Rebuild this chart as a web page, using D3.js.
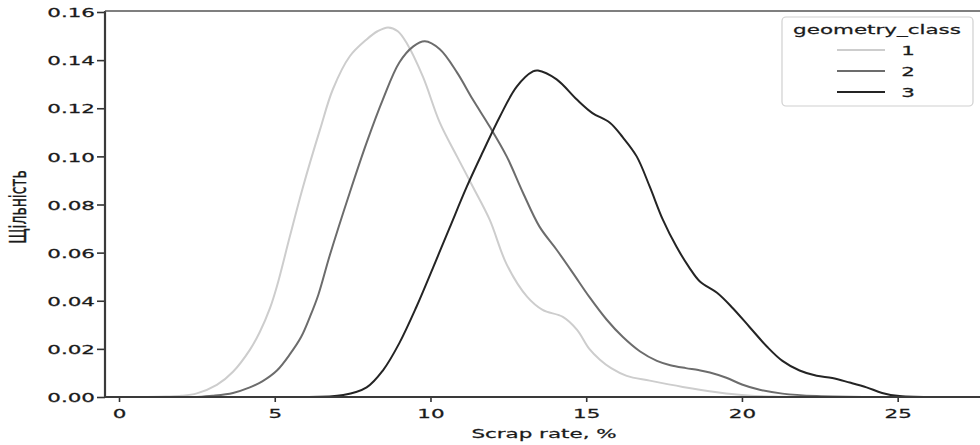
<!DOCTYPE html>
<html>
<head>
<meta charset="utf-8">
<script src="https://cdn.jsdelivr.net/npm/d3@7"></script>
<style>
  html, body { margin: 0; padding: 0; background: #fff; }
  svg { display: block; }
  text { font-family: "DejaVu Sans", sans-serif; fill: #1a1a1a; stroke: #1a1a1a; stroke-width: 0.25px; }
</style>
</head>
<body>
<svg id="chart" width="980" height="445"></svg>
<script>
// ---- data ----
const classes = ["1", "2", "3"];
const xTicks = [0, 5, 10, 15, 20, 25];
const yTicks = [0, 0.02, 0.04, 0.06, 0.08, 0.10, 0.12, 0.14, 0.16];

const class1X = [0.9, 1.5, 2.0, 2.5, 3.14, 3.66, 4.2, 4.52, 4.85, 5.07, 5.49, 5.9, 6.45, 6.87, 7.41, 7.95, 8.3, 8.64, 8.95, 9.24, 9.76, 10.3, 10.85, 11.36, 11.9, 12.45, 13.1, 13.6, 14.25, 14.7, 15.1, 15.44, 15.8, 16.3, 17.04, 18.1, 19.2, 20.2, 21.0, 22.0];
const class1Y = [0, 0.0002, 0.0005, 0.0015, 0.005, 0.0105, 0.0196, 0.027, 0.037, 0.046, 0.067, 0.087, 0.111, 0.128, 0.1416, 0.1486, 0.152, 0.1536, 0.152, 0.147, 0.133, 0.114, 0.100, 0.0874, 0.0737, 0.055, 0.0417, 0.0362, 0.0333, 0.028, 0.020, 0.0155, 0.012, 0.0088, 0.0068, 0.0042, 0.002, 0.0006, 0.0002, 0];

const class2X = [2.5, 3.0, 3.66, 4.2, 4.6, 5.07, 5.5, 5.85, 6.13, 6.4, 6.77, 7.41, 7.95, 8.47, 9.0, 9.45, 9.82, 10.3, 10.85, 11.36, 11.9, 12.45, 12.97, 13.5, 14.05, 14.57, 15.1, 15.66, 16.17, 16.72, 17.27, 17.7, 18.2, 18.6, 18.97, 19.5, 20.0, 20.57, 21.3, 22.4, 24.2];
const class2Y = [0, 0.0005, 0.0017, 0.004, 0.0065, 0.011, 0.018, 0.025, 0.0333, 0.0425, 0.059, 0.085, 0.1057, 0.1236, 0.139, 0.1457, 0.1478, 0.1445, 0.1349, 0.1236, 0.1124, 0.0999, 0.0849, 0.0708, 0.0612, 0.0516, 0.0416, 0.0321, 0.025, 0.019, 0.015, 0.0132, 0.012, 0.0112, 0.0102, 0.008, 0.0052, 0.003, 0.0014, 0.0004, 0];

const class3X = [6.0, 7.2, 7.95, 8.47, 9.0, 9.55, 10.09, 10.62, 11.17, 11.68, 12.23, 12.77, 13.29, 13.45, 14.05, 14.7, 15.2, 15.76, 16.17, 16.62, 17.04, 17.46, 17.9, 18.3, 18.65, 19.2, 19.7, 20.25, 20.8, 21.3, 21.85, 22.4, 22.9, 23.46, 24.0, 24.5, 25.06, 26.5];
const class3Y = [0, 0.0008, 0.004, 0.011, 0.0224, 0.0375, 0.054, 0.0705, 0.0875, 0.1018, 0.1166, 0.129, 0.1353, 0.1357, 0.132, 0.1236, 0.118, 0.114, 0.108, 0.100, 0.0874, 0.0737, 0.0624, 0.054, 0.048, 0.0433, 0.037, 0.029, 0.021, 0.015, 0.011, 0.0088, 0.0079, 0.006, 0.004, 0.0017, 0.0004, 0];

const seriesX = [class1X, class2X, class3X];
const seriesY = [class1Y, class2Y, class3Y];
const colors = ["#cdcdcd", "#6c6c6c", "#242424"];

const xLabel = "Scrap rate, %";
const yLabel = "Щільність";
const legendTitle = "geometry_class";

// ---- layout ----
const SX = 1.65;           // horizontal text stretch seen in the reference
const pLeft = 105, pRight = 988, pTop = 11, pBottom = 397;

const svg = d3.select("#chart");
const x = d3.scaleLinear().domain([-0.45, 27.9]).range([pLeft, pRight]);
const y = d3.scaleLinear().domain([0, 0.16]).range([pBottom, 12]);

// curves
const line = d3.line().x(d => x(d[0])).y(d => y(d[1])).curve(d3.curveCatmullRom.alpha(0.5));
const plot = svg.append("g");
plot.append("defs").append("clipPath").attr("id", "clip")
  .append("rect").attr("x", pLeft).attr("y", pTop).attr("width", pRight - pLeft).attr("height", pBottom - pTop);
classes.forEach((c, i) => {
  const pts = seriesX[i].map((v, j) => [v, seriesY[i][j]]);
  plot.append("path")
    .attr("d", line(pts))
    .attr("fill", "none")
    .attr("stroke", colors[i])
    .attr("stroke-width", 2)
    .attr("stroke-linejoin", "round")
    .attr("clip-path", "url(#clip)");
});

// axes
const xAxis = svg.append("g").attr("transform", `translate(0,${pBottom})`)
  .call(d3.axisBottom(x).tickValues(xTicks).tickFormat(d3.format("d")).tickSize(5).tickSizeOuter(0));
const yAxis = svg.append("g").attr("transform", `translate(${pLeft},0)`)
  .call(d3.axisLeft(y).tickValues(yTicks).tickFormat(d3.format(".2f")).tickSize(8).tickSizeOuter(0));

[xAxis, yAxis].forEach(a => {
  a.select(".domain").remove();
  a.selectAll(".tick line").attr("stroke", "#333").attr("stroke-width", 1.6);
  a.selectAll(".tick text").attr("font-size", 13).attr("fill", "#1a1a1a");
});
xAxis.selectAll(".tick text")
  .attr("y", null).attr("dy", "0.75em")
  .attr("transform", `translate(0,11) scale(${SX},1)`);
yAxis.selectAll(".tick text")
  .attr("x", null).attr("dy", "0.36em")
  .attr("transform", `translate(-10,0) scale(${SX},1)`);

// spines
const spine = svg.append("g").attr("stroke", "#3a3a3a").attr("fill", "none");
spine.append("line").attr("x1", pLeft).attr("x2", pLeft).attr("y1", pTop).attr("y2", pBottom).attr("stroke-width", 2.2);
spine.append("line").attr("x1", pLeft).attr("x2", 980).attr("y1", pBottom).attr("y2", pBottom).attr("stroke-width", 1.8);
spine.append("line").attr("x1", pLeft).attr("x2", 980).attr("y1", pTop).attr("y2", pTop).attr("stroke-width", 1.6).attr("stroke", "#555");

// axis labels
svg.append("text")
  .attr("transform", `translate(544,438) scale(${SX},1)`)
  .attr("text-anchor", "middle").attr("font-size", 13)
  .text(xLabel);
svg.append("text")
  .attr("transform", `translate(26,207) scale(${SX},1) rotate(-90)`)
  .attr("text-anchor", "middle").attr("font-size", 14)
  .text(yLabel);

// legend
const lg = svg.append("g");
lg.append("rect").attr("x", 782).attr("y", 17).attr("width", 191).attr("height", 89)
  .attr("rx", 4).attr("fill", "#fff").attr("stroke", "#d0d0d0").attr("stroke-width", 1.2);
lg.append("text")
  .attr("transform", `translate(877,34) scale(${SX},1)`)
  .attr("text-anchor", "middle").attr("font-size", 13)
  .text(legendTitle);
const rowY = [50, 71, 92];
classes.forEach((c, i) => {
  lg.append("line").attr("x1", 837).attr("x2", 885).attr("y1", rowY[i]).attr("y2", rowY[i])
    .attr("stroke", colors[i]).attr("stroke-width", 2);
  lg.append("text")
    .attr("transform", `translate(908,${rowY[i]}) scale(${SX},1)`)
    .attr("text-anchor", "middle").attr("dy", "0.36em").attr("font-size", 13)
    .text(c);
});
</script>
</body>
</html>
